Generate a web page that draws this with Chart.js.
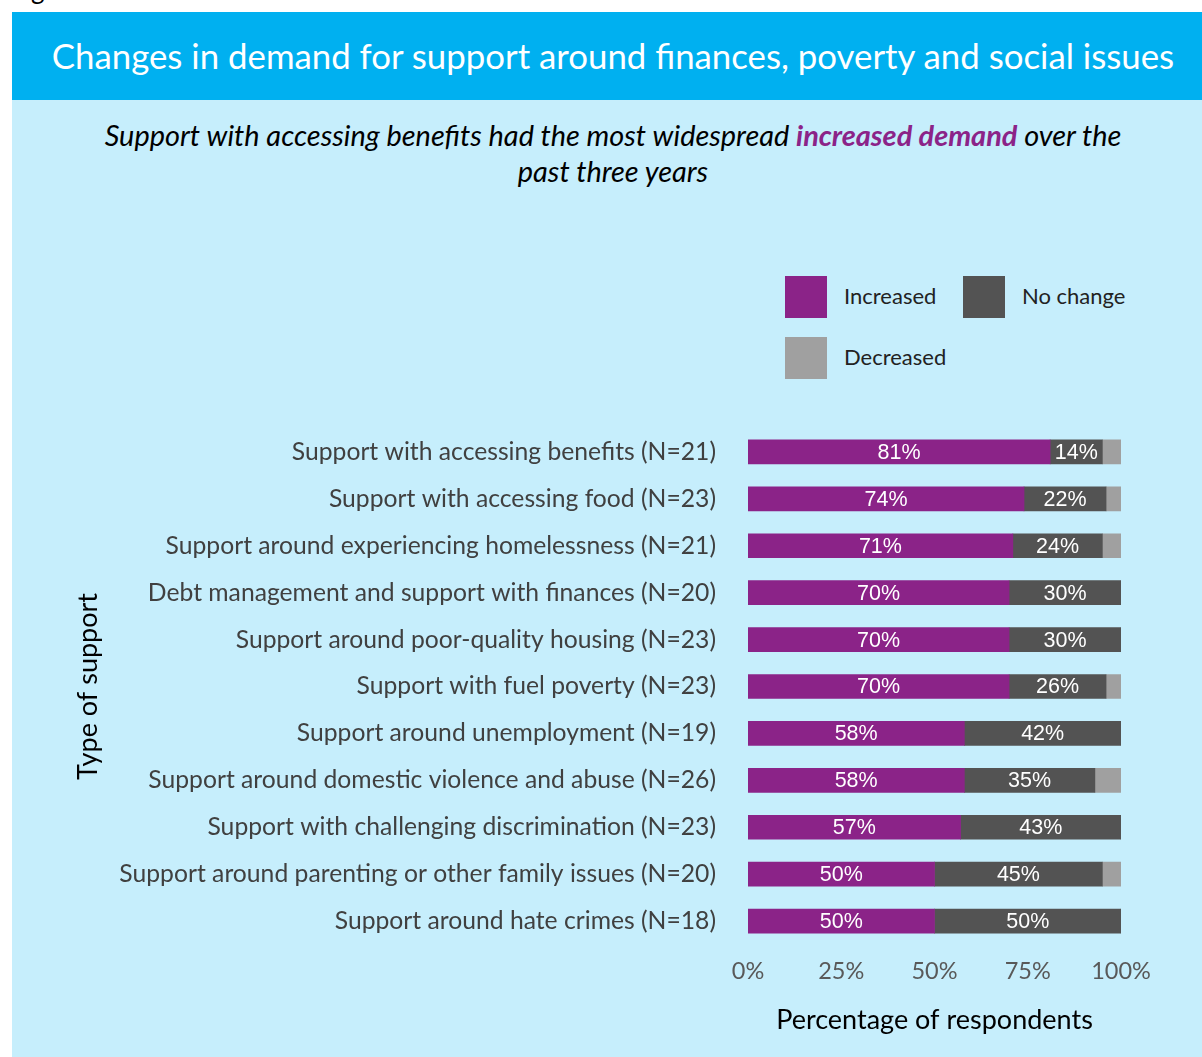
<!DOCTYPE html>
<html>
<head>
<meta charset="utf-8">
<script src="https://cdn.jsdelivr.net/npm/chart.js@4"></script>
<style>
  html, body { margin: 0; padding: 0; background: #ffffff; }
  body { width: 1202px; height: 1057px; position: relative; overflow: hidden; font-family: Lato, "Open Sans", sans-serif; }
  #fig { position: absolute; left: 10px; top: -27px; font-size: 26px; line-height: 32px; color: #000; }
  #header { position: absolute; left: 12px; top: 12px; width: 1190px; height: 88px; background: #00B0F0; }
  #header h1 { margin: 0; font-weight: normal; color: #fff; font-size: 34.8px; line-height: 88px; text-align: center; padding-left: 12px; white-space: nowrap; }
  #panel { position: absolute; left: 12px; top: 100px; width: 1190px; height: 957px; background: #C6EEFC; }
  #sub { position: absolute; left: 0; top: 17px; width: 1202px; text-align: center; font-style: italic; font-size: 28.9px; line-height: 36px; color: #000; white-space: nowrap; }
  #sub b { color: #8B2388; }
  .lg { position: absolute; font-size: 22px; color: #222; }
  .sw { position: absolute; width: 42px; height: 42px; }
  canvas { position: absolute; left: 0; top: 0; }
</style>
</head>
<body>
<div id="fig">Figure</div>
<div id="header"><h1>Changes in demand for support around finances, poverty and social issues</h1></div>
<div id="panel">
  <div id="sub">Support with accessing benefits had the most widespread <b>increased demand</b> over the<br>past three years</div>
  <div id="legend"></div>
  <canvas id="c" width="1190" height="957"></canvas>
</div>
<script>
const categories = [
  "Support with accessing benefits (N=21)",
  "Support with accessing food (N=23)",
  "Support around experiencing homelessness (N=21)",
  "Debt management and support with finances (N=20)",
  "Support around poor-quality housing (N=23)",
  "Support with fuel poverty (N=23)",
  "Support around unemployment (N=19)",
  "Support around domestic violence and abuse (N=26)",
  "Support with challenging discrimination (N=23)",
  "Support around parenting or other family issues (N=20)",
  "Support around hate crimes (N=18)"
];
const increased = [81, 74, 71, 70, 70, 70, 58, 58, 57, 50, 50];
const noChange  = [14, 22, 24, 30, 30, 26, 42, 35, 43, 45, 50];
const decreased = [5, 4, 5, 0, 0, 4, 0, 7, 0, 5, 0];
const xTicks = [0, 25, 50, 75, 100];

const seriesNames = ["Increased", "No change", "Decreased"];
const seriesColors = ["#8B2388", "#535353", "#A0A0A0"];

// Legend swatches and names (two rows)
const legendPos = [[773, 176], [951, 176], [773, 237]];
const legendEl = document.getElementById('legend');
seriesNames.forEach((name, i) => {
  const [x, y] = legendPos[i];
  const sw = document.createElement('div');
  sw.className = 'sw';
  sw.style.left = x + 'px'; sw.style.top = y + 'px';
  sw.style.background = seriesColors[i];
  legendEl.appendChild(sw);
  const t = document.createElement('div');
  t.className = 'lg';
  t.textContent = name;
  t.style.left = (x + 59) + 'px'; t.style.top = (y + 6) + 'px';
  legendEl.appendChild(t);
});

// White percentage labels centred on the Increased and No change segments
const segmentLabels = {
  id: 'segmentLabels',
  afterDatasetsDraw(chart) {
    const ctx = chart.ctx;
    ctx.save();
    ctx.font = '21.5px "Liberation Sans", Arial, sans-serif';
    ctx.fillStyle = '#ffffff';
    ctx.textAlign = 'center';
    ctx.textBaseline = 'middle';
    [0, 1].forEach(di => {
      const meta = chart.getDatasetMeta(di);
      meta.data.forEach((bar, i) => {
        const v = chart.data.datasets[di].data[i];
        if (!v) return;
        const cx = (bar.x + bar.base) / 2;
        ctx.fillText(v + '%', cx, bar.y + 1);
      });
    });
    ctx.restore();
  }
};

new Chart(document.getElementById('c'), {
  type: 'bar',
  data: {
    labels: categories,
    datasets: [
      { label: seriesNames[0], data: increased, backgroundColor: seriesColors[0] },
      { label: seriesNames[1], data: noChange, backgroundColor: seriesColors[1] },
      { label: seriesNames[2], data: decreased, backgroundColor: seriesColors[2] }
    ]
  },
  options: {
    indexAxis: 'y',
    responsive: false,
    animation: false,
    events: [],
    barThickness: 24,
    layout: { padding: { top: 328.5, right: 81, bottom: 0, left: 0 } },
    plugins: { legend: { display: false }, tooltip: { enabled: false } },
    scales: {
      x: {
        stacked: true,
        min: 0, max: 100,
        afterBuildTicks(scale) { scale.ticks = xTicks.map(v => ({ value: v })); },
        afterFit(scale) { scale.height = 112.5; },
        grid: { display: false, drawTicks: false, tickLength: 0 },
        border: { display: false },
        ticks: {
          padding: 13,
          color: '#595959',
          font: { family: 'Lato', size: 23.5 },
          maxRotation: 0,
          callback: v => v + '%'
        },
        title: {
          display: true,
          text: 'Percentage of respondents',
          color: '#000',
          font: { family: 'Lato', size: 27 },
          padding: { top: 0, bottom: 21 }
        }
      },
      y: {
        stacked: true,
        afterFit(scale) { scale.width = 736; },
        grid: { display: false, drawTicks: false, tickLength: 0 },
        border: { display: false },
        ticks: {
          padding: 32,
          color: '#404040',
          font: { family: 'Lato', size: 24.7 },
          autoSkip: false
        },
        title: {
          display: true,
          text: 'Type of support',
          color: '#000',
          font: { family: 'Lato', size: 27 },
          padding: { top: 60, bottom: 0 }
        }
      }
    }
  },
  plugins: [segmentLabels]
});
</script>
</body>
</html>
